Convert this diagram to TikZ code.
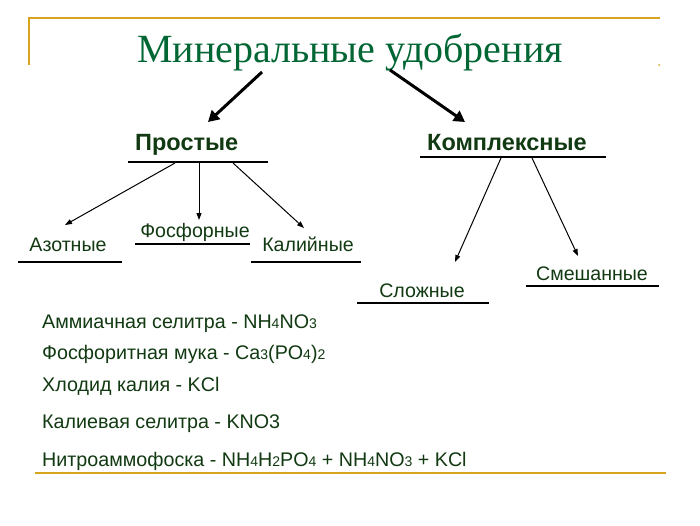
\documentclass[tikz,border=0pt]{standalone}
\usepackage{fontspec}
\setmainfont{Liberation Sans}
\newfontfamily\titlefont{Liberation Serif}
\usetikzlibrary{arrows.meta}
\definecolor{titlegreen}{RGB}{0,102,51}
\definecolor{txtgreen}{RGB}{18,58,18}
\definecolor{goldline}{RGB}{214,164,30}
\newcommand{\sbs}[1]{{\fontsize{14}{14}\selectfont #1}}
\begin{document}
\begin{tikzpicture}[x=1pt,y=-1pt,
  title/.style={font=\titlefont\fontsize{40}{48}\selectfont, text=titlegreen, inner sep=0pt},
  head/.style={font=\bfseries\fontsize{23.5}{28}\selectfont, text=txtgreen, inner sep=0pt},
  kind/.style={font=\fontsize{19.6}{23}\selectfont, text=txtgreen, inner sep=0pt},
  item/.style={font=\fontsize{19.7}{23}\selectfont, text=txtgreen, inner sep=0pt, anchor=base west},
  bigarrow/.style={line width=3pt, -{Triangle[length=11pt,width=12pt]}},
  smallarrow/.style={line width=1pt, -{Triangle[length=7pt,width=5pt]}},
  uline/.style={line width=1.5pt}]
\useasboundingbox (0,0) rectangle (700,525);
\fill[white] (0,0) rectangle (700,525);
% gold frame
\draw[goldline, line width=1.5pt] (29,65) -- (29,18) -- (660,18);
\fill[goldline] (659,65) circle (1);
\draw[goldline, line width=1.5pt] (35,473) -- (666,473);
% title
\node[title, anchor=base] (t) at (350,62) {Минеральные удобрения};
% headings
\node[head, anchor=base west] (p) at (135,150) {Простые};
\node[head, anchor=base west] (k) at (427,150) {Комплексные};
\draw[uline] (128,162) -- (268,162);
\draw[uline] (420,157) -- (606,157);
\coordinate (t1) at (262,72);
\coordinate (t2) at (390,70);
\coordinate (p0) at (208,122);
\coordinate (k0) at (465,122);
\draw[bigarrow] (t1) -- (p0);
\draw[bigarrow] (t2) -- (k0);
% kinds
\node[kind, anchor=base] (az) at (68,251) {Азотные};
\node[kind, anchor=base] (fo) at (195,237) {Фосфорные};
\node[kind, anchor=base] (ka) at (308,251) {Калийные};
\node[kind, anchor=base] (sl) at (422,297) {Сложные};
\node[kind, anchor=base] (sm) at (592,280) {Смешанные};
\draw[uline] (18,262) -- (122,262);
\draw[uline] (135,244) -- (250,244);
\draw[uline] (251,262) -- (361,262);
\draw[uline] (357,303) -- (489,303);
\draw[uline] (526,286) -- (659,286);
% small arrows
\coordinate (pa) at (175,163);
\coordinate (pb) at (199,163);
\coordinate (pc) at (233,163);
\coordinate (ka0) at (501,158);
\coordinate (kb0) at (532,158);
\coordinate (aze) at (65,225);
\coordinate (foe) at (199,220);
\coordinate (kae) at (304,228);
\coordinate (sle) at (455,262);
\coordinate (sme) at (578,256);
\draw[smallarrow] (pa) -- (aze);
\draw[smallarrow] (pb) -- (foe);
\draw[smallarrow] (pc) -- (kae);
\draw[smallarrow] (ka0) -- (sle);
\draw[smallarrow] (kb0) -- (sme);
% list
\node[item] (l1) at (42,328) {Аммиачная селитра - NH\sbs{4}NO\sbs{3}};
\node[item] (l2) at (42,359) {Фосфоритная мука - Ca\sbs{3}(PO\sbs{4})\sbs{2}};
\node[item] (l3) at (42,391) {Хлодид калия - KCl};
\node[item] (l4) at (42,428) {Калиевая селитра - KNO3};
\node[item] (l5) at (42,466) {Нитроаммофоска - NH\sbs{4}H\sbs{2}PO\sbs{4} + NH\sbs{4}NO\sbs{3} + KCl};
\end{tikzpicture}
\end{document}
